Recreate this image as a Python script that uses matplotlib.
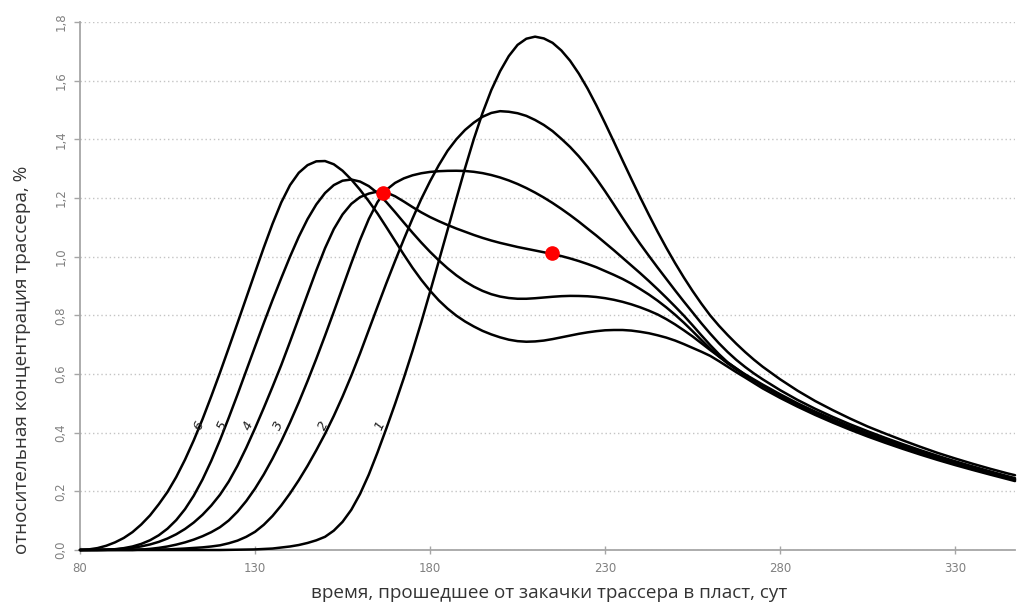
import matplotlib
matplotlib.use("Agg")
import matplotlib.pyplot as plt

# ---------------- data ----------------
x_ticks = [80, 130, 180, 230, 280, 330]
x_tick_labels = ["80", "130", "180", "230", "280", "330"]
y_ticks = [0.0, 0.2, 0.4, 0.6, 0.8, 1.0, 1.2, 1.4, 1.6, 1.8]
y_tick_labels = ["0,0", "0,2", "0,4", "0,6", "0,8", "1,0", "1,2", "1,4", "1,6", "1,8"]

# (day, relative concentration %) pairs for each curve
c1_pts = [(80, 0), (120, 0.0), (125, 0.001), (130, 0.002), (135, 0.005), (140, 0.012),
          (142.5, 0.017), (145, 0.024), (147.5, 0.033), (150, 0.045), (152.5, 0.066),
          (155, 0.096), (157.5, 0.137), (160, 0.191), (162.5, 0.257), (165, 0.333),
          (167.5, 0.414), (170, 0.498), (172.5, 0.586), (175, 0.679), (177.5, 0.777),
          (180, 0.88), (182.5, 0.985), (185, 1.091), (187.5, 1.197), (190, 1.302),
          (192.5, 1.401), (195, 1.49), (197.5, 1.568), (200, 1.632), (202.5, 1.684),
          (205, 1.722), (207.5, 1.743), (210, 1.75), (212.5, 1.744), (215, 1.729),
          (217.5, 1.703), (220, 1.668), (222.5, 1.624), (225, 1.573), (227.5, 1.516),
          (230, 1.455), (232.5, 1.392), (235, 1.328), (237.5, 1.265), (240, 1.203),
          (242.5, 1.143), (245, 1.085), (247.5, 1.03), (250, 0.978), (252.5, 0.929),
          (255, 0.883), (257.5, 0.84), (260, 0.8), (262.5, 0.765), (265, 0.733),
          (267.5, 0.703), (270, 0.675), (272.5, 0.649), (275, 0.625), (280, 0.582),
          (285, 0.543), (290, 0.508), (295, 0.477), (300, 0.448), (305, 0.421),
          (310, 0.397), (315, 0.374), (320, 0.352), (325, 0.331), (330, 0.312),
          (335, 0.294), (340, 0.277), (345, 0.261), (347.1, 0.255)]

c2_pts = [(80, 0), (105, 0.002), (110, 0.005), (115, 0.009), (117.5, 0.012), (120, 0.016),
          (122.5, 0.023), (125, 0.032), (127.5, 0.045), (130, 0.062), (132.5, 0.086),
          (135, 0.116), (137.5, 0.152), (140, 0.193), (142.5, 0.238), (145, 0.287),
          (147.5, 0.34), (150, 0.396), (152.5, 0.457), (155, 0.523), (157.5, 0.594),
          (160, 0.67), (162.5, 0.75), (165, 0.83), (167.5, 0.909), (170, 0.985),
          (172.5, 1.059), (175, 1.13), (177.5, 1.197), (180, 1.257), (182.5, 1.312),
          (185, 1.361), (187.5, 1.4), (190, 1.432), (192.5, 1.457), (195, 1.477),
          (197.5, 1.49), (200, 1.496), (202.5, 1.494), (205, 1.489), (207.5, 1.48),
          (210, 1.466), (212.5, 1.449), (215, 1.428), (217.5, 1.402), (220, 1.374),
          (222.5, 1.342), (225, 1.306), (227.5, 1.266), (230, 1.223), (232.5, 1.178),
          (235, 1.132), (237.5, 1.087), (240, 1.044), (242.5, 1.003), (245, 0.963),
          (247.5, 0.924), (250, 0.885), (252.5, 0.847), (255, 0.81), (257.5, 0.773),
          (260, 0.738), (262.5, 0.705), (265, 0.675), (267.5, 0.648), (270, 0.624),
          (272.5, 0.602), (275, 0.582), (280, 0.545), (285, 0.5115), (290, 0.4815),
          (295, 0.454), (300, 0.4285), (305, 0.405), (310, 0.3825), (315, 0.361),
          (320, 0.3405), (325, 0.321), (330, 0.3025), (335, 0.285), (340, 0.268),
          (345, 0.2515), (347.1, 0.245)]

c3_pts = [(80, 0), (95, 0), (97.5, 0.0015), (100, 0.0038), (102.5, 0.0073), (105, 0.012),
          (107.5, 0.0183), (110, 0.026), (112.5, 0.0355), (115, 0.047), (117.5, 0.0608),
          (120, 0.0778), (122.5, 0.1008), (125, 0.1308), (127.5, 0.167), (130, 0.2093),
          (132.5, 0.2575), (135, 0.3115), (137.5, 0.3708), (140, 0.4348), (142.5, 0.5033),
          (145, 0.5758), (147.5, 0.6518), (150, 0.7308), (152.5, 0.8121), (155, 0.8948),
          (157.5, 0.9776), (160, 1.0571), (162.5, 1.1284), (165, 1.1864), (167.5, 1.2276),
          (170, 1.2514), (172.5, 1.2669), (175, 1.2774), (177.5, 1.2844), (180, 1.2889),
          (182.5, 1.2914), (185, 1.2926), (187.5, 1.2929), (190, 1.2921), (192.5, 1.2893),
          (195, 1.2848), (197.5, 1.2783), (200, 1.27), (202.5, 1.2598), (205, 1.2478),
          (207.5, 1.234), (210, 1.2185), (212.5, 1.2015), (215, 1.183), (217.5, 1.163),
          (220, 1.1418), (222.5, 1.1193), (225, 1.0955), (227.5, 1.072), (230, 1.047),
          (232.5, 1.022), (235, 0.996), (237.5, 0.97), (240, 0.944), (242.5, 0.917),
          (245, 0.889), (247.5, 0.86), (250, 0.83), (252.5, 0.799), (255, 0.766),
          (257.5, 0.732), (260, 0.699), (262.5, 0.668), (265, 0.64), (267.5, 0.618),
          (270, 0.599), (275, 0.564), (280, 0.531), (285, 0.5), (290, 0.472), (295, 0.446),
          (300, 0.421), (305, 0.398), (310, 0.376), (315, 0.355), (320, 0.335), (325, 0.316),
          (330, 0.298), (335, 0.281), (340, 0.265), (345, 0.249), (347.1, 0.242)]

c4_pts = [(80, 0), (85, 0), (87.5, 0.0007), (90, 0.002), (92.5, 0.0042), (95, 0.0075),
          (97.5, 0.0123), (100, 0.0189), (102.5, 0.0277), (105, 0.0392), (107.5, 0.0537),
          (110, 0.0717), (112.5, 0.0937), (115, 0.1201), (117.5, 0.1516), (120, 0.1886),
          (122.5, 0.2336), (125, 0.2874), (127.5, 0.3486), (130, 0.4149), (132.5, 0.4844),
          (135, 0.5564), (137.5, 0.6306), (140, 0.71), (142.5, 0.791), (145, 0.872),
          (147.5, 0.953), (150, 1.029), (152.5, 1.094), (155, 1.144), (157.5, 1.18),
          (160, 1.203), (162.5, 1.215), (165, 1.222), (167.5, 1.219), (170, 1.206),
          (172.5, 1.188), (175, 1.169), (177.5, 1.151), (180, 1.135), (182.5, 1.121),
          (185, 1.108), (187.5, 1.096), (190, 1.085), (192.5, 1.074), (195, 1.064),
          (197.5, 1.055), (200, 1.047), (202.5, 1.04), (205, 1.033), (207.5, 1.027),
          (210, 1.021), (212.5, 1.015), (215, 1.009), (217.5, 1.002), (220, 0.994),
          (222.5, 0.985), (225, 0.975), (227.5, 0.964), (230, 0.951), (232.5, 0.938),
          (235, 0.924), (237.5, 0.908), (240, 0.89), (242.5, 0.871), (245, 0.85),
          (247.5, 0.827), (250, 0.802), (252.5, 0.775), (255, 0.746), (257.5, 0.716),
          (260, 0.687), (262.5, 0.66), (265, 0.636), (267.5, 0.615), (270, 0.596),
          (275, 0.56), (280, 0.527), (285, 0.496), (290, 0.468), (295, 0.442), (300, 0.417),
          (305, 0.394), (310, 0.372), (315, 0.352), (320, 0.332), (325, 0.313), (330, 0.295),
          (335, 0.278), (340, 0.262), (345, 0.246), (347.1, 0.24)]

c5_pts = [(80, 0), (87.5, 0.0008), (90, 0.0027), (92.5, 0.0063), (95, 0.012), (97.5, 0.0208),
          (100, 0.0332), (102.5, 0.0502), (105, 0.0728), (107.5, 0.1021), (110, 0.1393),
          (112.5, 0.1852), (115, 0.2403), (117.5, 0.304), (120, 0.3749), (122.5, 0.4511),
          (125, 0.5301), (127.5, 0.6117), (130, 0.693), (132.5, 0.7735), (135, 0.852),
          (137.5, 0.927), (140, 1.0), (142.5, 1.068), (145, 1.128), (147.5, 1.178),
          (150, 1.217), (152.5, 1.244), (155, 1.259), (157.5, 1.263), (160, 1.256),
          (162.5, 1.2405), (165, 1.2168), (167.5, 1.1863), (170, 1.152), (172.5, 1.1165),
          (175, 1.0815), (177.5, 1.048), (180, 1.0165), (182.5, 0.9873), (185, 0.9605),
          (187.5, 0.9365), (190, 0.9155), (192.5, 0.8978), (195, 0.8833), (197.5, 0.872),
          (200, 0.864), (202.5, 0.859), (205, 0.8565), (207.5, 0.8565), (210, 0.8583),
          (212.5, 0.8608), (215, 0.8633), (217.5, 0.8653), (220, 0.8663), (222.5, 0.866),
          (225, 0.865), (227.5, 0.8625), (230, 0.8585), (232.5, 0.853), (235, 0.846),
          (237.5, 0.8375), (240, 0.8275), (242.5, 0.816), (245, 0.803), (247.5, 0.787),
          (250, 0.769), (252.5, 0.749), (255, 0.728), (257.5, 0.705), (260, 0.682),
          (262.5, 0.66), (265, 0.639), (267.5, 0.619), (270, 0.597), (272.5, 0.578),
          (275, 0.56), (280, 0.526), (285, 0.494), (290, 0.465), (295, 0.439), (300, 0.414),
          (305, 0.391), (310, 0.37), (315, 0.349), (320, 0.33), (325, 0.311), (330, 0.293),
          (335, 0.276), (340, 0.26), (345, 0.245), (347.1, 0.238)]

c6_pts = [(80, 0), (82.5, 0.002), (85, 0.0065), (87.5, 0.0145), (90, 0.026), (92.5, 0.041),
          (95, 0.061), (97.5, 0.087), (100, 0.118), (102.5, 0.156), (105, 0.198),
          (107.5, 0.249), (110, 0.308), (112.5, 0.374), (115, 0.446), (117.5, 0.524),
          (120, 0.605), (122.5, 0.689), (125, 0.774), (127.5, 0.86), (130, 0.946),
          (132.5, 1.031), (135, 1.112), (137.5, 1.185), (140, 1.244), (142.5, 1.286),
          (145, 1.312), (147.5, 1.325), (150, 1.326), (152.5, 1.315), (155, 1.293),
          (157.5, 1.263), (160, 1.228), (162.5, 1.189), (165, 1.147), (167.5, 1.101),
          (170, 1.054), (172.5, 1.007), (175, 0.962), (177.5, 0.921), (180, 0.884),
          (182.5, 0.851), (185, 0.823), (187.5, 0.799), (190, 0.779), (192.5, 0.762),
          (195, 0.747), (197.5, 0.735), (200, 0.725), (202.5, 0.717), (205, 0.712),
          (207.5, 0.71), (210, 0.711), (212.5, 0.714), (215, 0.719), (217.5, 0.725),
          (220, 0.731), (222.5, 0.737), (225, 0.742), (227.5, 0.746), (230, 0.749),
          (232.5, 0.75), (235, 0.75), (237.5, 0.748), (240, 0.744), (242.5, 0.739),
          (245, 0.732), (247.5, 0.724), (250, 0.714), (252.5, 0.702), (255, 0.689),
          (257.5, 0.676), (260, 0.662), (262.5, 0.644), (265, 0.625), (267.5, 0.606),
          (270, 0.588), (275, 0.551), (280, 0.5185), (285, 0.4885), (290, 0.4605),
          (295, 0.4345), (300, 0.41), (305, 0.387), (310, 0.3655), (315, 0.345),
          (320, 0.3255), (325, 0.307), (330, 0.2895), (335, 0.273), (340, 0.257),
          (345, 0.2415), (347.1, 0.235)]

curve_names = ["1", "2", "3", "4", "5", "6"]
label_x = [165.7, 149.5, 136.8, 128.1, 120.8, 113.8]
label_y = [0.423, 0.423, 0.423, 0.423, 0.423, 0.423]

marker_x = [166.6, 214.9]
marker_y = [1.217, 1.013]

x_label = "время, прошедшее от закачки трассера в пласт, сут"
y_label = "относительная концентрация трассера, %"

# ---------------- drawing ----------------
W, H = 1017, 606
fig = plt.figure(figsize=(W / 100, H / 100), dpi=100)
ax = fig.add_axes([80 / W, 56 / H, 935 / W, 528 / H])

for pts in [c1_pts, c2_pts, c3_pts, c4_pts, c5_pts, c6_pts]:
    xs = [p[0] for p in pts]
    ys = [p[1] for p in pts]
    ax.plot(xs, ys, color="black", lw=1.8, solid_joinstyle="round", solid_capstyle="round",
            zorder=3, clip_on=False)

ax.plot(marker_x, marker_y, "o", color="#ff0000", ms=9.5, mec="#ff0000", zorder=5)

for name, lx, ly in zip(curve_names, label_x, label_y):
    ax.text(lx, ly, name, fontsize=9.5, style="italic", rotation=65, ha="center", va="center",
            color="#222222", zorder=4)

ax.set_xlim(80, 347.1)
ax.set_ylim(0, 1.8)
ax.set_xticks(x_ticks)
ax.set_xticklabels(x_tick_labels)
ax.set_yticks(y_ticks)
ax.set_yticklabels(y_tick_labels, rotation=90, va="center")

ax.yaxis.grid(True, linestyle=(0, (1, 2)), color="#c4c4c4", lw=1.0)
ax.set_axisbelow(True)

for s in ["top", "right"]:
    ax.spines[s].set_visible(False)
for s in ["left", "bottom"]:
    ax.spines[s].set_color("#a6a6a6")
    ax.spines[s].set_linewidth(1.3)

ax.tick_params(axis="x", direction="inout", length=6, width=1, color="#a6a6a6",
               labelsize=8.5, labelcolor="#808080", pad=6)
ax.tick_params(axis="y", direction="out", length=4, width=1, color="#a6a6a6",
               labelsize=8.5, labelcolor="#808080", pad=5)

fig.text(549 / W, 1 - 593 / H, x_label, ha="center", va="center", fontsize=13.6,
         family="Open Sans", color="#333333")
fig.text(22 / W, 1 - 360 / H, y_label, ha="center", va="center", fontsize=13.6,
         family="Open Sans", color="#333333", rotation=90)

fig.savefig("out.png", dpi=100)
